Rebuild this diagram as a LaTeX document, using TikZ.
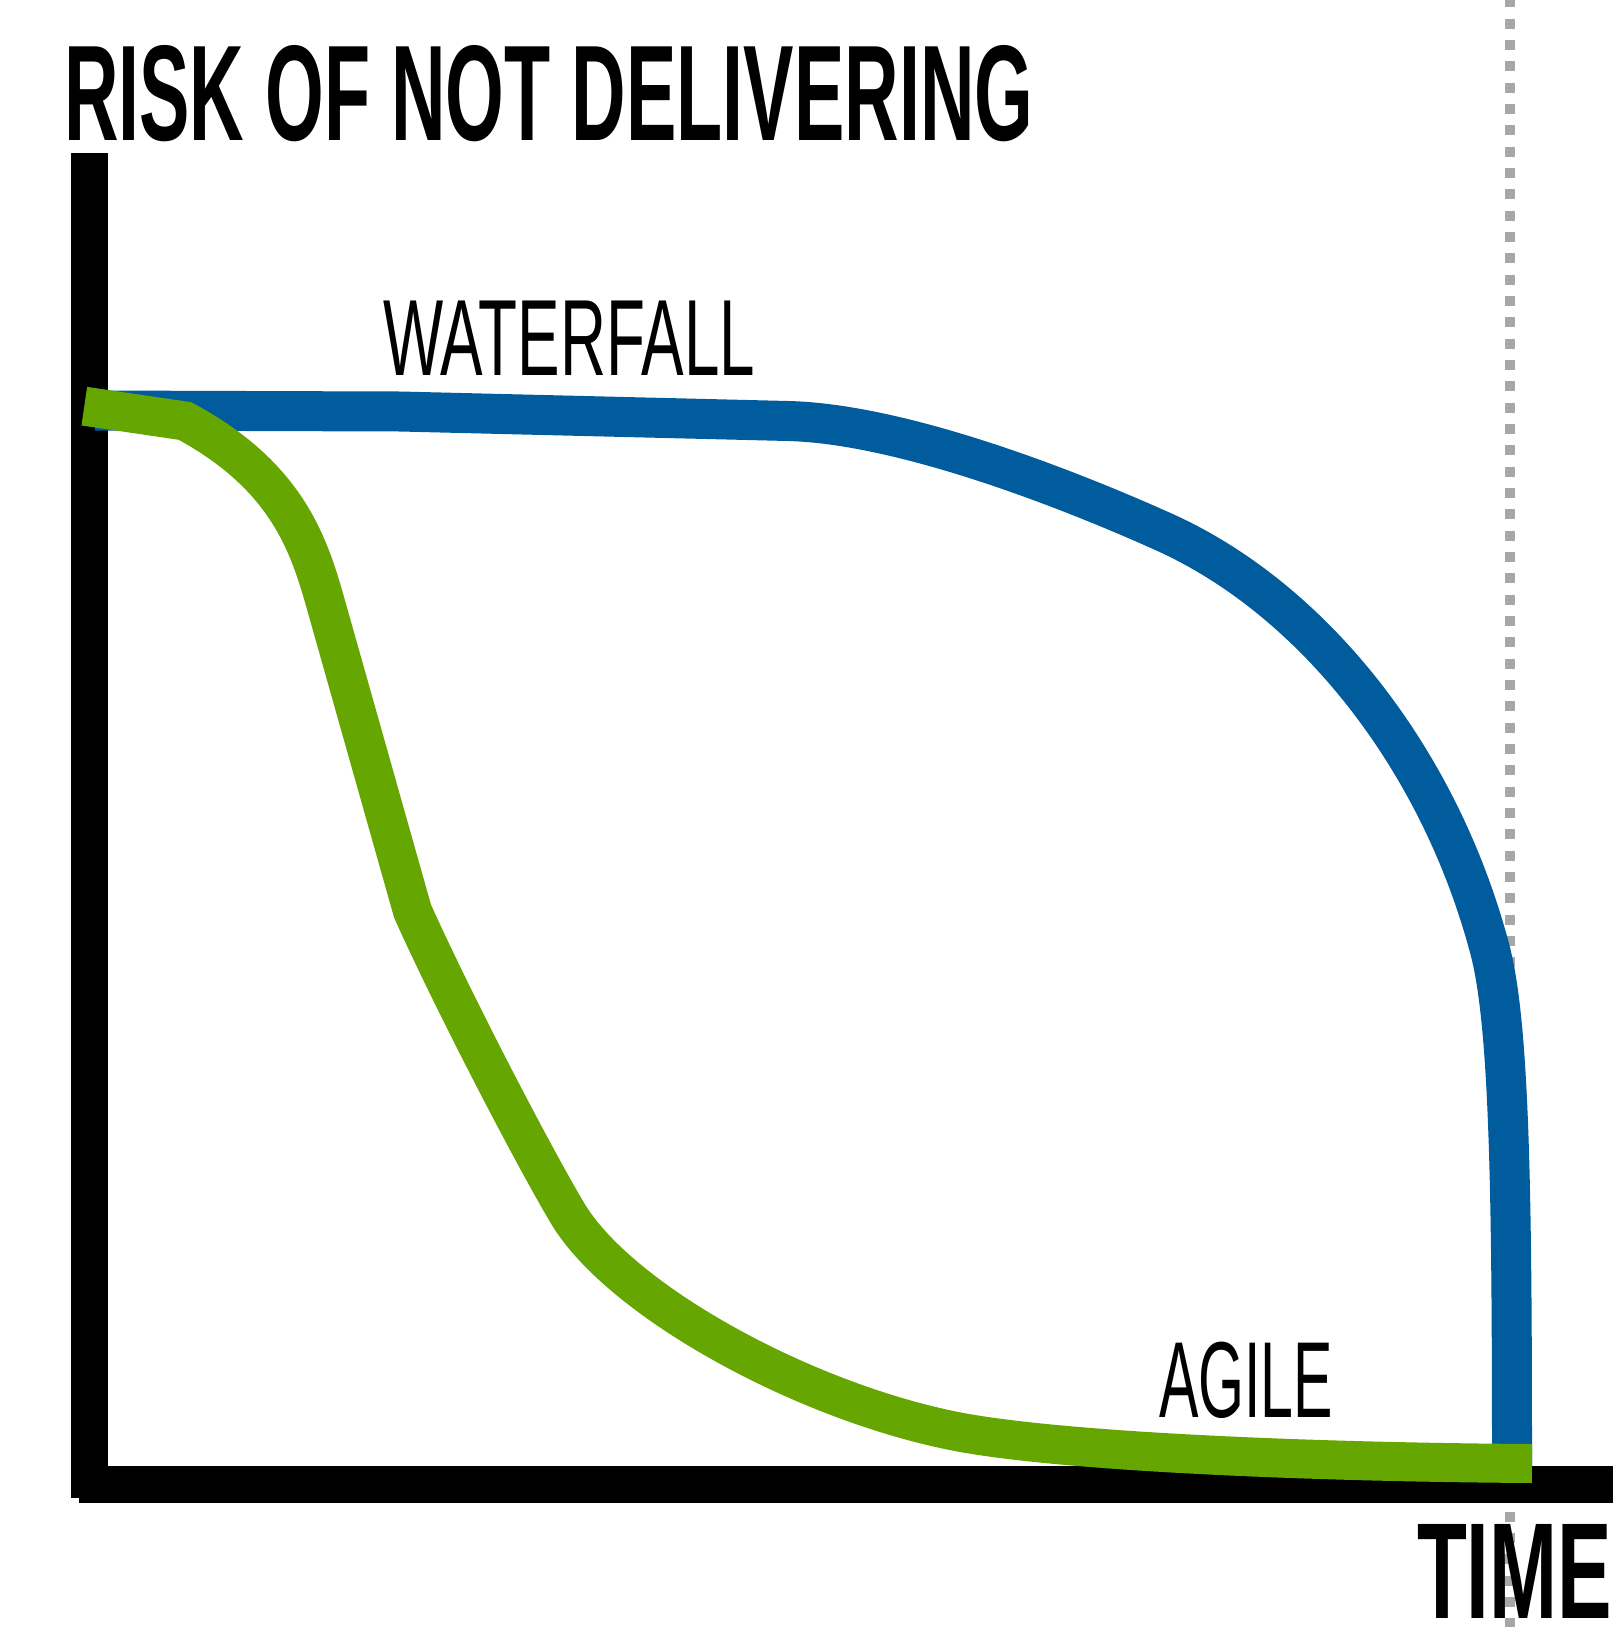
\documentclass[tikz,border=0pt]{standalone}
\usepackage{fontspec}
\setmainfont{Liberation Sans}
\usepackage{graphicx}
\definecolor{wfblue}{RGB}{0,92,157}
\definecolor{aggreen}{RGB}{102,166,0}
\definecolor{dotgray}{RGB}{166,168,168}
\tikzset{
  axisbar/.style={fill=black, draw=none},
  wfcurve/.style={draw=wfblue, line width=40pt, line join=round, line cap=butt},
  agcurve/.style={draw=aggreen, line width=39pt, line join=miter, line cap=butt},
  guideline/.style={draw=dotgray, line width=10pt, dash pattern=on 10pt off 11.33pt},
  label/.style={anchor=north west, inner sep=0pt, outer sep=0pt}
}
\begin{document}
\begin{tikzpicture}[x=1pt,y=-1pt]
\useasboundingbox (0,0) rectangle (1612,1627);
\fill[white] (0,0) rectangle (1612,1627);
% dotted guide line
\coordinate (gtop) at (1509.5,-2.7);
\coordinate (gbot) at (1509.5,1640);
\draw[guideline] (gtop) -- (gbot);
% axes
\fill[axisbar] (70.7,152.7) rectangle (108.3,1498.3);
\fill[axisbar] (79,1466) rectangle (1620,1503.3);
% waterfall curve
\draw[wfcurve] (95,410.5) -- (400,411.5) -- (788,421)
  .. controls (900,423.7) and (1064,487) .. (1164,532)
  .. controls (1314,599.5) and (1440,760) .. (1490,950)
  .. controls (1510,1026) and (1512,1200) .. (1512,1470);
% agile curve
\draw[agcurve] (84.3,406.2) -- (185,421)
  .. controls (291.8,478.7) and (310.6,550.4) .. (328,612)
  -- (412.5,911)
  .. controls (450,995) and (530,1150) .. (568,1214)
  .. controls (620,1300) and (800,1400) .. (954,1431)
  .. controls (1054,1451) and (1300,1462) .. (1532,1463.5);
% texts
\node[label] (title) at (64.1,45.5) {\resizebox{969pt}{95pt}{\bfseries RISK OF NOT DELIVERING}};
\node[label] (waterfall) at (383,300.5) {\resizebox{372pt}{74.5pt}{WATERFALL}};
\node[label] (agile) at (1159,1342.3) {\resizebox{174pt}{75.4pt}{AGILE}};
\node[label] (time) at (1417,1524) {\resizebox{195pt}{94pt}{\bfseries TIME}};
\end{tikzpicture}
\end{document}
